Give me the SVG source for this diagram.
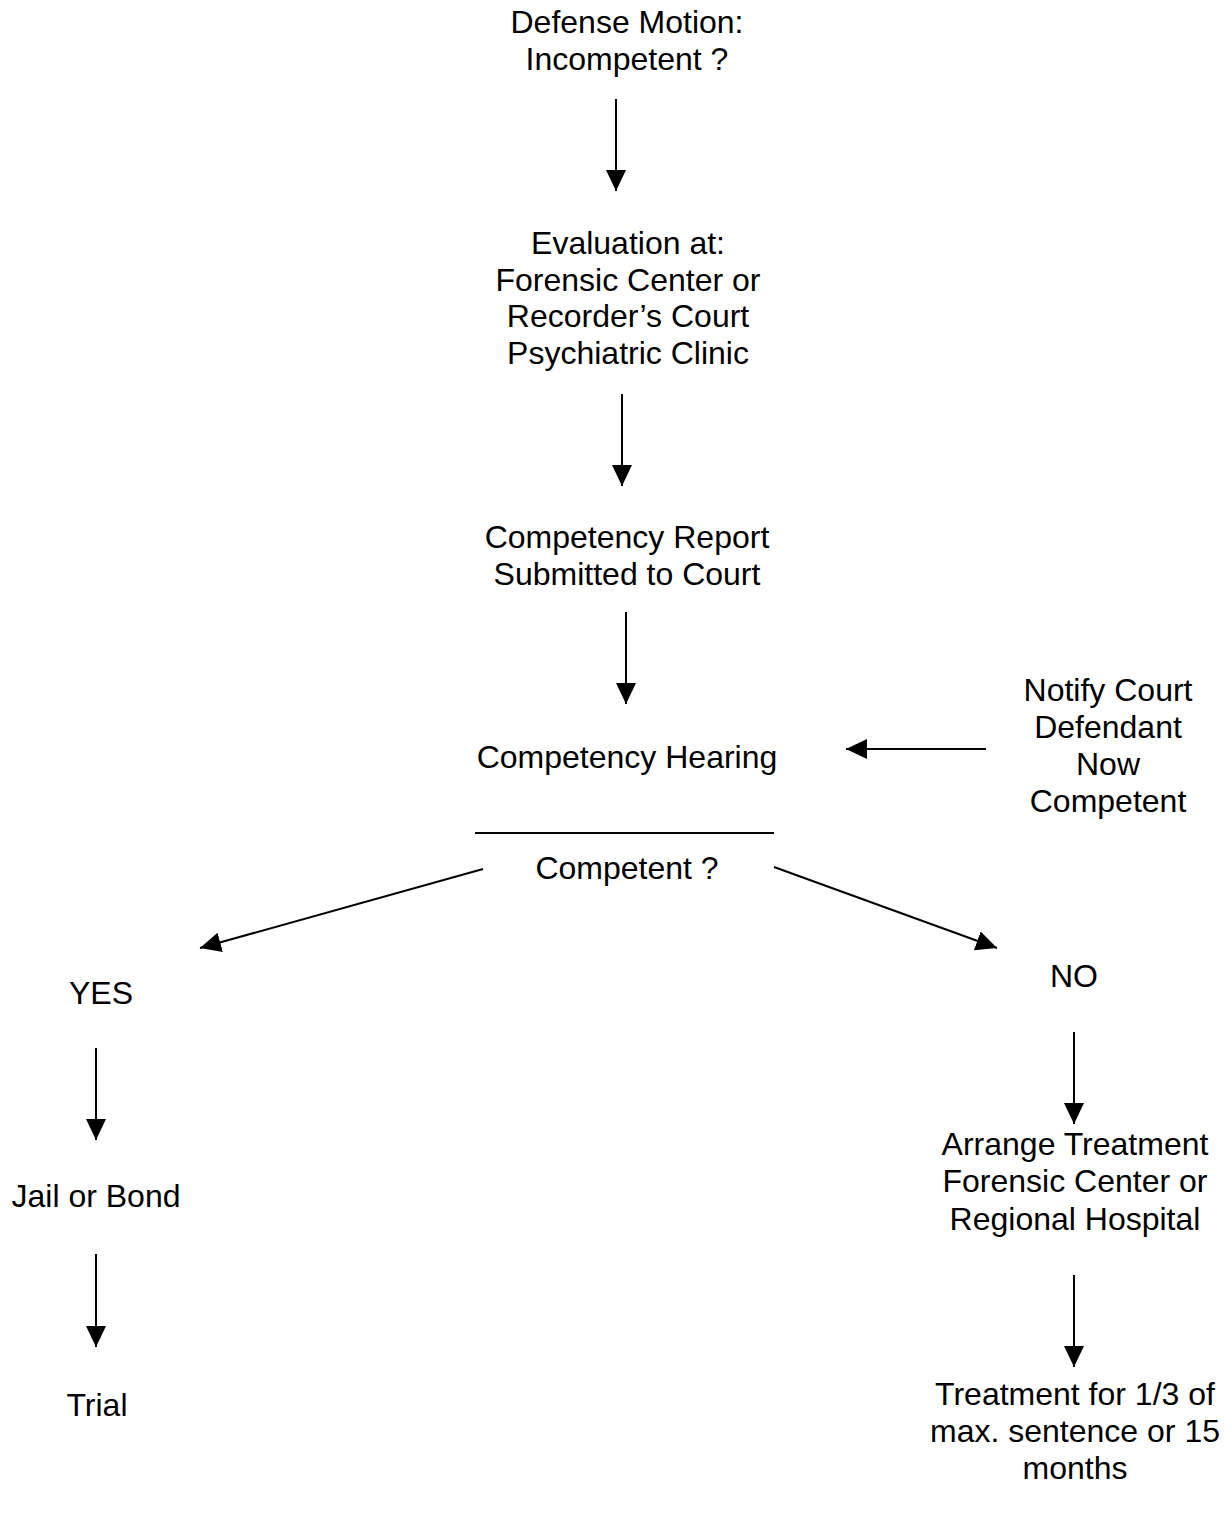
<svg xmlns="http://www.w3.org/2000/svg" width="1231" height="1516" viewBox="0 0 1231 1516">
<style>
text{font-family:"Liberation Sans",Arial,sans-serif;font-size:32px;fill:#000;text-anchor:middle}
.c line{stroke:#000;stroke-width:2}
</style>
<defs>
<marker id="ah" markerUnits="userSpaceOnUse" markerWidth="22" markerHeight="22" refX="21" refY="10" orient="auto" viewBox="0 0 22 20">
<path d="M0,0 L21,10 L0,20 z" fill="#000"/>
</marker>
</defs>
<rect width="1231" height="1516" fill="#fff"/>
<g id="n1"><text x="627" y="33">Defense Motion:</text><text x="627" y="70">Incompetent ?</text></g>
<g id="n2"><text x="628" y="254">Evaluation at:</text><text x="628" y="291">Forensic Center or</text><text x="628" y="327">Recorder’s Court</text><text x="628" y="364">Psychiatric Clinic</text></g>
<g id="n3"><text x="627" y="548">Competency Report</text><text x="627" y="585">Submitted to Court</text></g>
<g id="n4"><text x="627" y="768">Competency Hearing</text></g>
<g id="n5"><line x1="475" y1="833" x2="774" y2="833" stroke="#000" stroke-width="2"/><text x="627" y="879">Competent ?</text></g>
<g id="n6"><text x="1108" y="701">Notify Court</text><text x="1108" y="738">Defendant</text><text x="1108" y="775">Now</text><text x="1108" y="812">Competent</text></g>
<g id="n7"><text x="101" y="1004">YES</text></g>
<g id="n8"><text x="1074" y="987">NO</text></g>
<g id="n9"><text x="96" y="1207">Jail or Bond</text></g>
<g id="n10"><text x="97" y="1416">Trial</text></g>
<g id="n11"><text x="1075" y="1155">Arrange Treatment</text><text x="1075" y="1192">Forensic Center or</text><text x="1075" y="1230">Regional Hospital</text></g>
<g id="n12"><text x="1075" y="1405">Treatment for 1/3 of</text><text x="1075" y="1442">max. sentence or 15</text><text x="1075" y="1479">months</text></g>
<g class="c" id="connectors">
<line x1="616" y1="99" x2="616" y2="191" marker-end="url(#ah)"/>
<line x1="622" y1="394" x2="622" y2="486" marker-end="url(#ah)"/>
<line x1="626" y1="612" x2="626" y2="704" marker-end="url(#ah)"/>
<line x1="986" y1="749" x2="846" y2="749" marker-end="url(#ah)"/>
<line x1="483" y1="869" x2="200" y2="948" marker-end="url(#ah)"/>
<line x1="774" y1="867" x2="997" y2="948" marker-end="url(#ah)"/>
<line x1="96" y1="1048" x2="96" y2="1140" marker-end="url(#ah)"/>
<line x1="96" y1="1254" x2="96" y2="1347" marker-end="url(#ah)"/>
<line x1="1074" y1="1032" x2="1074" y2="1124" marker-end="url(#ah)"/>
<line x1="1074" y1="1275" x2="1074" y2="1367" marker-end="url(#ah)"/>
</g>
</svg>
